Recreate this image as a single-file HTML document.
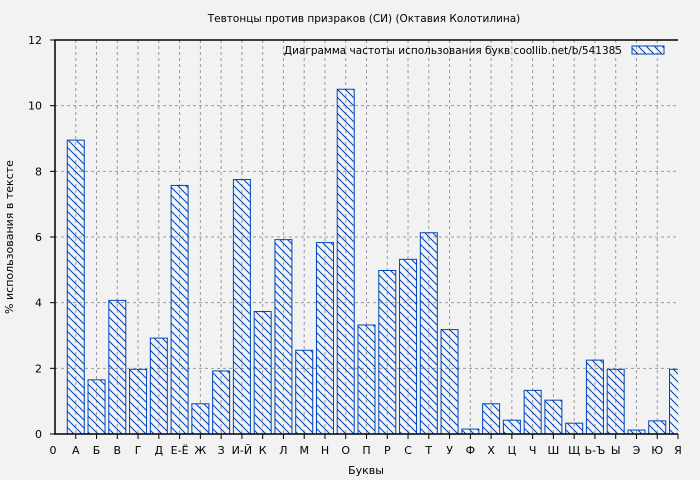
<!DOCTYPE html>
<html><head><meta charset="utf-8"><style>
body{margin:0;background:#f2f2f2;}
svg{display:block;font-family:"DejaVu Sans","Liberation Sans",sans-serif;}
</style></head><body>
<svg id="chart" width="700" height="480">
<defs>
<pattern id="hatch" patternUnits="userSpaceOnUse" width="8" height="8">
<path d="M-1,-1 L9,9 M-1,7 L1,9 M7,-1 L9,1" stroke="#0044bb" stroke-width="1"/>
</pattern>
<clipPath id="clip"><rect x="55" y="40" width="623" height="395"/></clipPath>
</defs>
<rect width="700" height="480" fill="#f2f2f2"/>
<text x="364" y="22" font-size="10.5" text-anchor="middle">Тевтонцы против призраков (СИ) (Октавия Колотилина)</text>
<g id="grid"></g>
<g id="bars" clip-path="url(#clip)"></g>
<g id="axes"></g>
<text x="366" y="474" font-size="11" text-anchor="middle">Буквы</text>
<text transform="translate(13,237) rotate(-90)" font-size="11" text-anchor="middle">% использования в тексте</text>
<g>
<text x="622" y="54" font-size="10.5" text-anchor="end">Диаграмма частоты использования букв  coollib.net/b/541385</text>
<rect x="632" y="46" width="32" height="8" fill="url(#hatch)" stroke="#0044bb"/>
</g>
</svg>
<script>
const categories=["А","Б","В","Г","Д","Е-Ё","Ж","З","И-Й","К","Л","М","Н","О","П","Р","С","Т","У","Ф","Х","Ц","Ч","Ш","Щ","Ь-Ъ","Ы","Э","Ю","Я"];
const values=[8.95,1.65,4.07,1.97,2.92,7.57,0.92,1.92,7.75,3.73,5.92,2.55,5.83,10.5,3.32,4.98,5.32,6.13,3.18,0.15,0.92,0.42,1.33,1.03,0.33,2.25,1.97,0.12,0.4,1.97];
const yTicks=[0,2,4,6,8,10,12];
const NS="http://www.w3.org/2000/svg";
const L=55,R=678,T=40,B=434;
const step=(R-L)/30;
function x(i){return L+i*step;}
function y(v){return B-(v/12)*(B-T);}
function mk(tag,attrs,parent){const e=document.createElementNS(NS,tag);for(const k in attrs)e.setAttribute(k,attrs[k]);parent.appendChild(e);return e;}
const grid=document.getElementById('grid'),bars=document.getElementById('bars'),axes=document.getElementById('axes');
yTicks.forEach(t=>{
  if(t>0&&t<12){const g=mk('line',{x1:L,x2:R,y1:y(t),y2:y(t),stroke:'#999','stroke-dasharray':'3,3'},grid);
  
  }
  const tk=mk('line',{x1:L-5,x2:L,y1:y(t),y2:y(t),stroke:'#000'},axes);
  
  
  const lb=mk('text',{x:L-13,y:y(t)+4,'font-size':11,'text-anchor':'end'},axes);lb.textContent=t;
  
  
});
categories.forEach((c,i)=>{
  const cx=x(i+1);
  if(i<29){const g=mk('line',{x1:cx,x2:cx,y1:T,y2:B,stroke:'#999','stroke-dasharray':'3,3'},grid);
  
  }
  const r=mk('rect',{x:cx-8.5,y:y(values[i]),width:17,height:B-y(values[i]),fill:'url(#hatch)',stroke:'#0044bb'},bars);
  
  
  const tk=mk('line',{x1:cx,x2:cx,y1:B,y2:B+5,stroke:'#000'},axes);
  
  
  const lb=mk('text',{x:cx,y:B+20,'font-size':11,'text-anchor':'middle'},axes);lb.textContent=c;
  
  
});
const z=mk('text',{x:L-2,y:B+20,'font-size':11,'text-anchor':'middle'},axes);z.textContent='0';


const ax=mk('path',{d:`M${R},${T} L${L},${T} L${L},${B} L${R},${B}`,fill:'none',stroke:'#000','stroke-width':1.5},axes);


</script>
</body></html>
